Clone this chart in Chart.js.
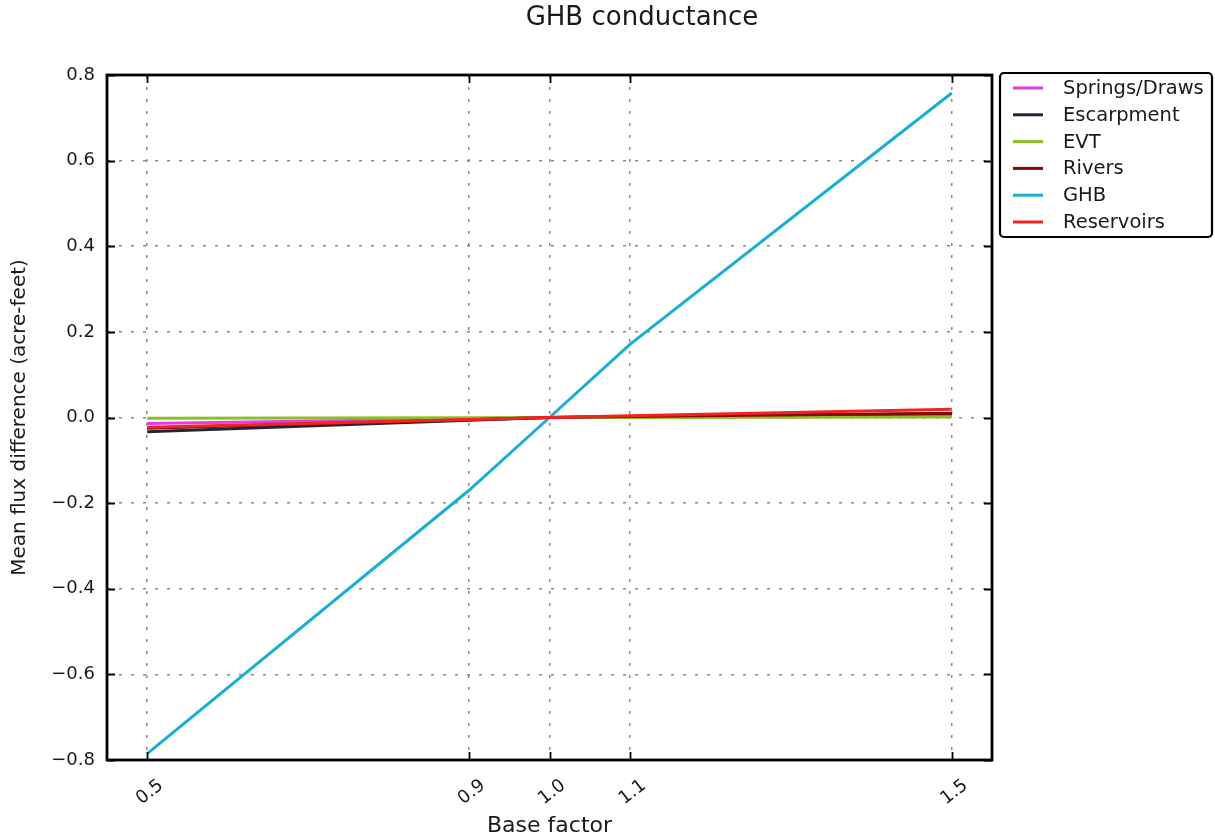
<!DOCTYPE html>
<html>
<head>
<meta charset="utf-8">
<title>GHB conductance</title>
<script src="https://cdn.jsdelivr.net/npm/chart.js@4.4.1/dist/chart.umd.min.js"></script>
<style>
  html, body { margin: 0; padding: 0; background: #ffffff; }
  #wrap { width: 1215px; height: 839px; }
</style>
</head>
<body>
<div id="wrap"><canvas id="chart" width="1215" height="839"></canvas></div>
<script>
// Sensitivity run: multiplier applied to GHB conductance
const baseFactor = [0.5, 0.9, 1.0, 1.1, 1.5];

// Mean flux difference (acre-feet) per budget component
const springsDraws = [-0.014, -0.0028, 0.0, 0.0012, 0.005];
const escarpment   = [-0.033, -0.0066, 0.0, 0.0020, 0.009];
const evt          = [-0.002, -0.0004, 0.0, 0.0002, 0.001];
const rivers       = [-0.025, -0.0050, 0.0, 0.0024, 0.010];
const ghb          = [-0.785, -0.170, 0.0, 0.171, 0.758];
const reservoirs   = [-0.023, -0.0046, 0.0, 0.0040, 0.019];

const seriesNames  = ['Springs/Draws', 'Escarpment', 'EVT', 'Rivers', 'GHB', 'Reservoirs'];
const seriesValues = [springsDraws, escarpment, evt, rivers, ghb, reservoirs];
const seriesColors = ['#e03ee0', '#1b2838', '#8cbf26', '#870a0a', '#1aafd2', '#f42222'];

const xTickValues = [0.5, 0.9, 1.0, 1.1, 1.5];
const yTickValues = [-0.8, -0.6, -0.4, -0.2, 0.0, 0.2, 0.4, 0.6, 0.8];

const FONT = "'DejaVu Sans', 'Liberation Sans', sans-serif";

function fmt(v) {
  const s = Math.abs(v).toFixed(1);
  return (v < -1e-9 ? '\u2212' : '') + s;
}

// Frame, inward tick marks, title and boxed legend
const decorations = {
  id: 'decorations',
  afterDatasetsDraw(chart) {
    const ctx = chart.ctx;
    const a = chart.chartArea;
    const xs = chart.scales.x, ys = chart.scales.y;
    ctx.save();
    // inward ticks on all four sides
    ctx.strokeStyle = '#000';
    ctx.lineWidth = 1.8;
    const tl = 8;
    ctx.beginPath();
    xTickValues.forEach(v => {
      const px = Math.round(xs.getPixelForValue(v)) + 0.5;
      ctx.moveTo(px, a.bottom); ctx.lineTo(px, a.bottom - tl);
      ctx.moveTo(px, a.top); ctx.lineTo(px, a.top + tl);
    });
    yTickValues.forEach(v => {
      const py = Math.round(ys.getPixelForValue(v)) + 0.5;
      ctx.moveTo(a.left, py); ctx.lineTo(a.left + tl, py);
      ctx.moveTo(a.right, py); ctx.lineTo(a.right - tl, py);
    });
    ctx.stroke();
    // plot frame
    ctx.lineWidth = 2.8;
    ctx.strokeRect(a.left, a.top, a.right - a.left, a.bottom - a.top);

    // title
    ctx.fillStyle = '#1a1a1a';
    ctx.font = '26px ' + FONT;
    ctx.textAlign = 'center';
    ctx.textBaseline = 'middle';
    ctx.fillText('GHB conductance', 642, 18);

    // legend
    const lx = 1000, ly = 73, lw = 212, lh = 164;
    ctx.strokeStyle = '#000';
    ctx.lineWidth = 2.2;
    ctx.beginPath();
    if (ctx.roundRect) ctx.roundRect(lx, ly, lw, lh, 4); else ctx.rect(lx, ly, lw, lh);
    ctx.fillStyle = '#fff';
    ctx.fill();
    ctx.stroke();
    ctx.font = '19.5px ' + FONT;
    ctx.textAlign = 'left';
    ctx.textBaseline = 'middle';
    chart.data.datasets.forEach((ds, i) => {
      const y = ly + 15 + i * 26.8;
      ctx.strokeStyle = ds.borderColor;
      ctx.lineWidth = 3;
      ctx.beginPath();
      ctx.moveTo(lx + 13, y); ctx.lineTo(lx + 43, y);
      ctx.stroke();
      ctx.fillStyle = '#1a1a1a';
      ctx.fillText(ds.label, lx + 63, y + 1);
    });
    ctx.restore();
  }
};

const datasets = seriesNames.map((name, i) => ({
  label: name,
  data: baseFactor.map((x, j) => ({ x: x, y: seriesValues[i][j] })),
  borderColor: seriesColors[i],
  backgroundColor: seriesColors[i],
  borderWidth: 3,
  pointRadius: 0,
  fill: false,
  tension: 0,
  order: seriesNames.length - i
}));

new Chart(document.getElementById('chart'), {
  type: 'line',
  data: { datasets: datasets },
  plugins: [decorations],
  options: {
    responsive: false,
    devicePixelRatio: 1,
    animation: false,
    layout: { padding: { top: 75, right: 223, left: 0, bottom: 0 } },
    plugins: {
      legend: { display: false },
      title: { display: false },
      tooltip: { enabled: false }
    },
    scales: {
      x: {
        type: 'linear',
        min: 0.45,
        max: 1.55,
        afterBuildTicks: s => { s.ticks = xTickValues.map(v => ({ value: v })); },
        afterFit: s => { s.height = 79; s.paddingLeft = 0; s.paddingRight = 0; },
        border: { display: false, dash: [3, 9] },
        grid: { color: '#8a8a8a', lineWidth: 1.5, drawTicks: false },
        ticks: {
          autoSkip: false,
          minRotation: 38,
          maxRotation: 38,
          padding: 15,
          labelOffset: 14,
          color: '#1a1a1a',
          font: { family: FONT, size: 18 },
          callback: v => fmt(v)
        },
        title: {
          display: true,
          text: 'Base factor',
          color: '#1a1a1a',
          font: { family: FONT, size: 22 },
          padding: { top: 0, bottom: 0 }
        }
      },
      y: {
        type: 'linear',
        min: -0.8,
        max: 0.8,
        afterBuildTicks: s => { s.ticks = yTickValues.map(v => ({ value: v })); },
        afterFit: s => { s.width = 107; s.paddingTop = 0; s.paddingBottom = 0; },
        border: { display: false, dash: [3, 9] },
        grid: { color: '#8a8a8a', lineWidth: 1.5, drawTicks: false },
        ticks: {
          padding: 12,
          color: '#1a1a1a',
          font: { family: FONT, size: 18 },
          callback: v => fmt(v)
        },
        title: {
          display: true,
          text: 'Mean flux difference (acre-feet)',
          color: '#1a1a1a',
          font: { family: FONT, size: 20 },
          padding: { top: 8, bottom: 0 }
        }
      }
    }
  }
});
</script>
</body>
</html>
